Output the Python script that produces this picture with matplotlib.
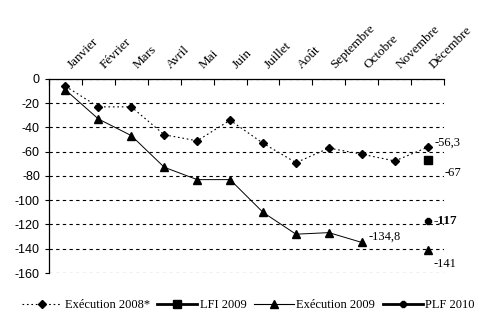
import numpy as np
import matplotlib.pyplot as plt
import matplotlib.transforms as mtransforms
from matplotlib.lines import Line2D

mois = ['Janvier', 'Février', 'Mars', 'Avril', 'Mai', 'Juin', 'Juillet',
        'Août', 'Septembre', 'Octobre', 'Novembre', 'Décembre']
exec_2008 = [-6, -23, -23, -46, -51, -34, -53, -69, -57, -62, -67.6, -56.3]
exec_2009 = [-9, -33, -46.7, -72.8, -83, -83, -110, -128, -126.7, -134.8]
exec_2009_dec = -141
lfi_2009 = -67
plf_2010 = -117

serif = 'Liberation Serif'
sans = 'Liberation Sans'

fig = plt.figure(figsize=(4.97, 3.25), dpi=100)
ax = fig.add_axes([0.0986, 0.16, 0.795, 0.597])

x = np.arange(len(mois))
ax.plot(x, exec_2008, color='black', linestyle=(0, (1.5, 2.5)), linewidth=0.8,
        marker='D', markersize=4.5)
ax.plot(x[:len(exec_2009)], exec_2009, color='black', linewidth=0.7,
        marker='^', markersize=6)
ax.plot([x[-1]], [exec_2009_dec], color='black', marker='^', markersize=6, linestyle='none')
ax.plot([x[-1]], [lfi_2009], color='black', marker='s', markersize=5.5, linestyle='none')
ax.plot([x[-1]], [plf_2010], color='black', marker='8', markersize=4.5, linestyle='none')

# etiquettes de valeurs
ax.annotate('-56,3', (x[-1], exec_2008[-1]), xytext=(5, 3), textcoords='offset points',
            fontsize=9, family=serif, va='center')
ax.annotate('-67', (x[-1], lfi_2009), xytext=(12, -9), textcoords='offset points',
            fontsize=9, family=serif, va='center')
ax.annotate('-117', (x[-1], plf_2010), xytext=(4, 0), textcoords='offset points',
            fontsize=9.5, family=serif, fontweight='bold', va='center')
ax.annotate('-134,8', (x[len(exec_2009) - 1], exec_2009[-1]), xytext=(5, 4),
            textcoords='offset points', fontsize=9, family=serif, va='center')
ax.annotate('-141', (x[-1], exec_2009_dec), xytext=(4, -10), textcoords='offset points',
            fontsize=9, family=serif, va='center')

ax.set_xlim(-0.5, len(mois) - 0.5)
ax.set_ylim(-160, 0)
ax.set_yticks(np.arange(-160, 1, 20))
ax.set_yticklabels([str(v) for v in range(-160, 1, 20)], family=sans, fontsize=9)
ax.tick_params(axis='y', length=3, direction='out', width=0.8)

ax.xaxis.tick_top()
ax.set_xticks(np.arange(len(mois) + 1) - 0.5)
ax.set_xticklabels([])
ax.tick_params(axis='x', which='major', direction='in', length=4, width=0.8)
ax.set_xticks(x, minor=True)
ax.set_xticklabels(mois, minor=True, rotation=45, ha='left', va='bottom',
                   rotation_mode='anchor', family=serif, fontsize=9.5)
ax.tick_params(axis='x', which='minor', length=0, pad=6)
shift = mtransforms.ScaledTranslation(6 / 72, 0, fig.dpi_scale_trans)
for lab in ax.get_xticklabels(minor=True):
    lab.set_transform(lab.get_transform() + shift)

ax.grid(axis='y', color='black', linestyle=(0, (3, 3)), linewidth=0.8)
ax.spines['right'].set_visible(False)
ax.spines['bottom'].set_visible(False)
for s in ['left', 'top']:
    ax.spines[s].set_linewidth(0.9)

handles = [
    Line2D([], [], color='black', linestyle=(0, (1.5, 2.5)), linewidth=0.8, marker='D', markersize=4.5),
    Line2D([], [], color='black', linewidth=2, marker='s', markersize=5.5),
    Line2D([], [], color='black', linewidth=0.8, marker='^', markersize=6),
    Line2D([], [], color='black', linewidth=2, marker='8', markersize=4.5),
]
labels = ['Exécution 2008*', 'LFI 2009', 'Exécution 2009', 'PLF 2010']
fig.legend(handles, labels, loc='center', bbox_to_anchor=(0.5, 0.06), ncol=4,
           frameon=False, prop={'family': serif, 'size': 9}, handlelength=3.2,
           handletextpad=0.2, columnspacing=0.6)

fig.savefig('out.png', dpi=100)
